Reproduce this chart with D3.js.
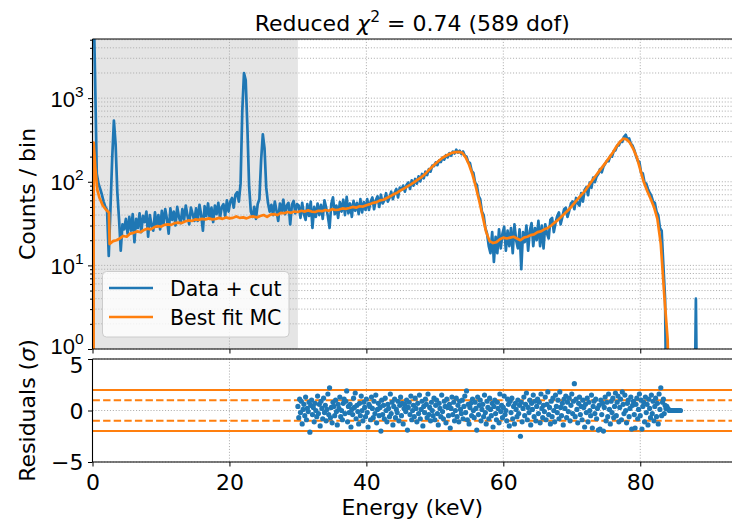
<!DOCTYPE html>
<html>
<head>
<meta charset="utf-8">
<script src="https://cdn.jsdelivr.net/npm/d3@7"></script>
<style>
    body { margin: 0; background: #fff; }
    svg { display: block; font-family: "DejaVu Sans", sans-serif; }
</style>
</head>
<body>
<div class="chart"></div>
<script>
// histogram of the data, 0.25 keV bins starting at 0 keV
const binWidth = 0.25;
const counts = [
    20000, 1800, 125, 95, 82, 70, 58, 50, 46, 13, 48, 190, 540, 280, 75, 36, 15, 31, 27, 36,
    24, 38, 26, 41, 19, 36, 28, 42, 25, 39, 33, 44, 22, 40, 30, 26, 43, 29, 40, 27,
    45, 31, 47, 36, 24, 48, 35, 44, 30, 50, 38, 32, 47, 35, 52, 39, 31, 49, 41, 34,
    48, 34, 53, 40, 26, 51, 39, 55, 36, 49, 33, 52, 41, 56, 37, 50, 54, 39, 60, 44,
    58, 64, 49, 70, 75, 58, 95, 700, 2000, 1650, 440, 88, 44, 38, 50, 36, 54, 62, 180, 370,
    250, 85, 56, 44, 53, 40, 58, 45, 34, 55, 43, 61, 41, 52, 56, 31, 53, 59, 42, 54,
    52, 37, 56, 41, 35, 54, 39, 58, 28, 50, 38, 55, 40, 53, 36, 60, 49, 39, 28, 54,
    65, 41, 52, 37, 57, 44, 61, 40, 66, 42, 55, 38, 59, 45, 56, 41, 62, 43, 57, 46,
    62, 46, 58, 65, 47, 60, 67, 50, 70, 55, 60, 73, 58, 64, 76, 62, 74, 82, 65, 85,
    80, 90, 76, 92, 98, 82, 104, 90, 108, 95, 116, 101, 124, 110, 132, 120, 142, 132, 156, 154,
    170, 158, 180, 172, 195, 184, 208, 196, 220, 205, 230, 218, 242, 224, 235, 215, 230, 205, 200, 172,
    168, 135, 128, 98, 92, 68, 62, 44, 40, 28, 24, 17, 14, 25, 11, 22, 14, 27, 16, 24,
    29, 15, 26, 17, 28, 14, 31, 20, 16, 27, 9, 25, 19, 30, 15, 26, 32, 17, 28, 20,
    34, 17, 30, 16, 31, 24, 21, 35, 37, 25, 32, 39, 43, 31, 38, 47, 49, 38, 45, 55,
    58, 47, 64, 55, 52, 73, 58, 80, 86, 69, 98, 85, 112, 99, 116, 124, 142, 130, 152, 164,
    178, 176, 204, 200, 232, 238, 270, 272, 305, 300, 345, 365, 318, 330, 285, 270, 240, 205, 180, 172,
    128, 126, 98, 95, 82, 74, 68, 58, 56, 44, 40, 28, 26, 10, 4, 0, 0, 0, 0, 0,
    0, 0, 0, 0, 0, 0, 0, 0, 0, 0, 0, 0, 4, 0
];

// best fit MC curve: [energy keV, counts]
const mcCurve = [
    [0.16, 0.1], [0.17, 295], [0.4, 150], [0.7, 80], [1.0, 65], [1.5, 52], [2.0, 46], [2.4, 43], [2.5, 18],
    [3.0, 19.5], [3.5, 20], [4.0, 21], [4.5, 22.5], [5.0, 22], [5.5, 24], [6.0, 24.5], [6.5, 25.5], [7.0, 25],
    [7.5, 26.5], [8.0, 27.5], [8.5, 27], [9.0, 28.5], [9.5, 29.5], [10.0, 29], [10.5, 30.5], [11.0, 31],
    [11.5, 30.5], [12.0, 32], [12.5, 32.5], [13.0, 32], [13.5, 33.5], [14.0, 34.5], [14.5, 34], [15.0, 35.5],
    [15.5, 35], [16.0, 36], [16.5, 35.5], [17.0, 36.5], [17.5, 35.5], [18.0, 36], [18.5, 37], [19.0, 36],
    [19.5, 37.5], [20.0, 36.5], [20.5, 37], [21.0, 38.5], [21.5, 37], [22.0, 37.5], [22.5, 36.5], [23.0, 38],
    [23.5, 38.5], [24.0, 37.5], [24.5, 39], [25.0, 40], [25.5, 38], [26.0, 40.5], [26.5, 41], [27.0, 40],
    [27.5, 42.5], [28.0, 42], [28.5, 43.5], [29.0, 42.5], [29.5, 44], [30.0, 43.5], [30.5, 45], [31.0, 44],
    [31.5, 45.5], [32.0, 44], [32.5, 43.5], [33.0, 45], [33.5, 44.5], [34.0, 46], [34.5, 45], [35.0, 47],
    [35.5, 46], [36.0, 46.5], [36.5, 48], [37.0, 47.5], [37.5, 48.5], [38.0, 50], [38.5, 49], [39.0, 51],
    [39.5, 50.5], [40.0, 52.5], [40.5, 54], [41.0, 56], [41.5, 57], [42.0, 60], [42.5, 61], [43.0, 64],
    [43.5, 67], [44.0, 71], [44.5, 74], [45.0, 79], [45.5, 83], [46.0, 88], [46.5, 93], [47.0, 99],
    [47.5, 106], [48.0, 113], [48.5, 122], [49.0, 135], [49.5, 148], [50.0, 162], [50.5, 176], [51.0, 190],
    [51.5, 202], [52.0, 212], [52.5, 222], [53.0, 226], [53.5, 228], [54.0, 222], [54.5, 196], [55.0, 160],
    [55.5, 122], [56.0, 86], [56.5, 58], [57.0, 38], [57.5, 25], [58.0, 19.5], [58.5, 18.5], [59.0, 19],
    [59.5, 20.5], [60.0, 21.5], [60.5, 21], [61.0, 21.5], [61.5, 22], [62.0, 21], [62.5, 20], [63.0, 21.5],
    [63.5, 22], [64.0, 23], [64.5, 23.5], [65.0, 25], [65.5, 25.5], [66.0, 27], [66.5, 28], [67.0, 30],
    [67.5, 32.5], [68.0, 35], [68.5, 38.5], [69.0, 42], [69.5, 46], [70.0, 51], [70.5, 57], [71.0, 64],
    [71.5, 71], [72.0, 79], [72.5, 91], [73.0, 104], [73.5, 118], [74.0, 134], [74.5, 152], [75.0, 172],
    [75.5, 196], [76.0, 224], [76.5, 262], [77.0, 298], [77.5, 328], [78.0, 322], [78.5, 292], [79.0, 245],
    [79.5, 196], [80.0, 140], [80.5, 100], [81.0, 78], [81.5, 63], [82.0, 50], [82.5, 36], [83.0, 18],
    [83.25, 9], [83.5, 4.5], [83.75, 2.4], [84.0, 1.3], [84.3, 0.1]
];

// residuals in sigma, one point every 0.125 keV from 30 keV
const residualStart = 30;
const residualStep = 0.125;
const residuals = [
    0.4, -0.7, 1.1, -0.2, 0.9, -1.3, 0.1, 0.6,
    -0.5, 1.3, -0.9, 0.2, -0.1, 0.8, -2.1, 0.5,
    1.0, -0.4, 0.3, -1.1, 0.7, 0.0, -0.6, 1.4,
    -0.3, 0.6, -1.5, 0.9, 0.2, -0.8, 1.2, -0.2,
    0.5, -1.0, 0.1, 1.6, -0.4, 2.2, -0.7, 0.3,
    -1.2, 0.8, 0.4, -0.5, 1.0, -0.1, -1.4, 0.6,
    0.2, 1.3, -0.6, 0.0, -0.9, 0.7, 1.1, -0.3,
    0.9, 1.9, -1.1, 0.4, -0.2, 0.6, -1.6, 0.1,
    -0.4, 1.2, 0.3, 1.7, -0.8, 0.5, -0.1, -1.3,
    0.7, -0.5, 1.4, 0.0, -1.0, 0.8, 0.3, -0.6,
    1.1, -0.2, -1.6, 0.6, 0.4, -0.9, 1.3, 0.2,
    -0.7, 0.9, -0.3, 1.5, -1.2, 0.1, 0.7, -0.5,
    0.3, -2.0, 1.0, -0.4, 0.5, -0.8, 1.2, 0.0,
    -1.1, 0.6, 0.2, -0.6, 1.6, -0.3, 0.8, -1.4,
    0.4, 1.1, -0.7, 0.1, -0.2, 0.9, -1.0, 0.5,
    1.3, -0.5, 0.7, -1.3, 0.2, 0.6, -0.1, 1.0,
    -1.9, 0.3, 0.8, -0.4, 1.4, -0.9, 0.0, 0.5,
    -0.6, 1.2, 0.2, -1.1, 0.7, -0.3, 1.5, -0.8,
    0.1, 0.9, -1.5, 0.4, -0.2, 1.1, 0.6, -0.7,
    1.6, -0.4, 0.3, -1.0, 0.8, 0.0, -0.5, 1.2,
    -0.9, 0.5, 1.0, -0.3, -1.4, 0.7, 0.2, -0.6,
    1.5, -0.1, -0.8, 0.9, 0.4, -1.2, 1.1, 0.3,
    -0.5, 0.6, -1.7, 0.2, 1.3, -0.4, 0.8, -1.0,
    0.0, 1.2, -0.6, 0.5, -1.1, 0.9, 0.1, -0.3,
    1.0, -0.8, 0.4, 1.4, -0.2, 1.9, -0.9, 0.6,
    -1.3, 0.3, 0.7, -0.5, 1.1, 0.0, -0.7, 0.8,
    0.2, -1.9, 1.3, -0.4, 0.5, 1.0, -1.0, 0.1,
    0.6, -0.6, 1.5, -0.2, -1.3, 0.9, 0.3, -0.8,
    1.2, 0.1, -0.5, 0.7, -1.6, 0.4, 1.0, -0.3,
    -0.9, 0.8, 0.2, -1.2, 1.6, -0.1, 0.5, -0.7,
    0.3, 1.4, -0.4, 0.0, -1.0, 1.1, 0.6, -1.5,
    0.9, -0.2, 1.2, -0.8, 0.4, -1.3, 0.7, 0.1,
    -0.6, 1.0, -0.3, 0.5, -2.5, 0.8, -1.1, 0.2,
    1.3, -0.5, 0.6, 1.7, -0.9, 0.3, -0.2, 1.0,
    -1.4, 0.7, 0.1, 1.5, -0.6, 0.9, -1.0, 0.4,
    1.1, -0.3, 0.8, -1.2, 1.6, 0.2, -0.7, 0.5,
    -0.1, 1.3, -0.9, 0.6, 1.8, -0.4, 0.3, -1.3,
    0.9, -0.6, 1.2, 0.0, -1.1, 1.5, 0.4, -0.2,
    1.0, -0.8, 1.8, 0.3, -0.5, 0.7, -1.4, 1.1,
    0.2, 1.4, -0.7, 0.8, -0.1, 1.2, -1.0, 0.5,
    1.6, -0.3, 0.9, 2.6, -0.6, 1.1, 0.1, -1.2,
    0.7, 1.3, -0.4, 0.4, -0.9, 1.0, 0.3, -1.6,
    0.6, -0.2, 1.2, -1.1, 0.8, 0.0, -0.5, 1.5,
    -1.7, 0.4, 0.9, -0.3, 1.1, -0.8, 0.2, -1.9,
    0.5, -1.8, 1.0, -0.4, 0.7, -2.0, 0.3, 1.3,
    -1.0, 0.8, -0.6, 1.6, 0.1, -1.3, 0.9, -0.2,
    1.2, -0.7, 0.4, 1.7, -0.5, 0.8, 1.4, -1.1,
    0.3, 1.1, -0.9, 1.8, 0.6, -0.3, 1.5, 0.0,
    -1.2, 0.7, 1.0, -0.6, 0.2, 1.3, -1.8, 0.5,
    0.9, -0.4, -1.7, 0.6, 1.2, -0.8, 0.1, 1.6,
    -0.5, 1.0, -1.8, 0.4, 0.8, -1.1, 1.3, -0.2,
    0.6, -1.4, 1.1, 0.2, -0.7, 1.5, -0.3, 0.9,
    -1.0, 0.4, 1.2, -0.6, 0.7, -1.3, 1.6, 0.1,
    2.2, -0.5, 0.8, 1.1, -0.3, 0.5, 0.2, 0.4,
    0.2, 0.1, 0.0, 0.0, 0.0, 0.0, 0.0, 0.0,
    0.0, 0.0, 0.0, 0.0, 0.0, 0.0, 0.0, 0.0
];

const xTicks = [0, 20, 40, 60, 80];
const resTicks = [-5, 0, 5];
const sigmaLines = [-2, -1, 1, 2];
const excludedRange = [0, 30];

const width = 732;
const height = 525;
const left = 92.5;
const right = 732;
const top1 = 39;
const bottom1 = 349;
const top2 = 359;
const bottom2 = 462;
const blue = '#1f77b4';
const orange = '#ff7f0e';
const lineWidth = 2.7;

const svg = d3.select('.chart')
    .append('svg')
    .attr('width', width)
    .attr('height', height);

const x = d3.scaleLinear().domain([0, 93.4]).range([left, right]);
const y = d3.scaleLog().domain([1, 5100]).range([bottom1, top1]);
const yRes = d3.scaleLinear().domain([-5, 5]).range([bottom2, top2]);

svg.append('clipPath').attr('id', 'clipTop')
    .append('rect')
    .attr('x', left).attr('y', top1)
    .attr('width', right - left).attr('height', bottom1 - top1);

function gridLine(sel) {
    return sel.attr('stroke', '#b0b0b0')
        .attr('stroke-width', 1)
        .attr('stroke-dasharray', '1.1,1.8');
}

// ---------- top panel ----------
const topG = svg.append('g');

topG.append('rect')
    .attr('x', x(excludedRange[0]))
    .attr('y', top1)
    .attr('width', x(excludedRange[1]) - x(excludedRange[0]))
    .attr('height', bottom1 - top1)
    .attr('fill', '#e5e5e5');

topG.selectAll('.ygrid')
    .data(y.ticks())
    .enter().append('line')
    .attr('class', 'ygrid')
    .attr('x1', left).attr('x2', right)
    .attr('y1', d => y(d)).attr('y2', d => y(d))
    .call(gridLine);

topG.selectAll('.xgrid')
    .data(xTicks)
    .enter().append('line')
    .attr('class', 'xgrid')
    .attr('x1', d => x(d)).attr('x2', d => x(d))
    .attr('y1', top1).attr('y2', bottom1)
    .call(gridLine);

// data drawn as a line through the bin centres
const dataPoints = counts.map((c, i) => [(i + 0.5) * binWidth, c]);

const countLine = d3.line()
    .x(d => x(d[0]))
    .y(d => y(Math.max(d[1], 0.05)));

const plotG = topG.append('g').attr('clip-path', 'url(#clipTop)');

plotG.append('path')
    .datum(dataPoints)
    .attr('d', countLine)
    .attr('fill', 'none')
    .attr('stroke', blue)
    .attr('stroke-width', lineWidth)
    .attr('stroke-linejoin', 'round');

plotG.append('path')
    .datum(mcCurve)
    .attr('d', countLine)
    .attr('fill', 'none')
    .attr('stroke', orange)
    .attr('stroke-width', lineWidth)
    .attr('stroke-linejoin', 'round');

// legend
const legend = topG.append('g');
legend.append('rect')
    .attr('x', 102.5).attr('y', 271.5)
    .attr('width', 186.5).attr('height', 65.5)
    .attr('rx', 4)
    .attr('fill', '#fff').attr('fill-opacity', 0.8)
    .attr('stroke', '#cccccc');

const legendItems = [
    { label: 'Data + cut', color: blue },
    { label: 'Best fit MC', color: orange }
];

const item = legend.selectAll('.legend-item')
    .data(legendItems)
    .enter().append('g')
    .attr('class', 'legend-item')
    .attr('transform', (d, i) => `translate(0, ${288 + i * 29})`);

item.append('line')
    .attr('x1', 109).attr('x2', 153)
    .attr('stroke', d => d.color)
    .attr('stroke-width', lineWidth);

item.append('text')
    .attr('x', 170).attr('y', 7.5)
    .style('font-size', '20.5px')
    .attr('fill', '#000')
    .text(d => d.label);

// spines
topG.append('line').attr('x1', left).attr('x2', right).attr('y1', top1).attr('y2', top1)
    .attr('stroke', '#000').attr('stroke-width', 1.1);
topG.append('line').attr('x1', left).attr('x2', right).attr('y1', bottom1).attr('y2', bottom1)
    .attr('stroke', '#000').attr('stroke-width', 1.1);
topG.append('line').attr('x1', left).attr('x2', left).attr('y1', top1).attr('y2', bottom1)
    .attr('stroke', '#000').attr('stroke-width', 1.1);

// axes
topG.append('g')
    .attr('transform', `translate(0, ${bottom1})`)
    .call(d3.axisBottom(x).tickValues(xTicks).tickSize(4.5).tickFormat(''))
    .call(g => g.select('.domain').remove());

const majors = y.ticks().filter(d => Math.abs(Math.log10(d) - Math.round(Math.log10(d))) < 1e-9);
const minors = y.ticks().filter(d => majors.indexOf(d) < 0);

topG.append('g')
    .attr('transform', `translate(${left}, 0)`)
    .call(d3.axisLeft(y).tickValues(minors).tickSize(2.5).tickFormat(''))
    .call(g => g.select('.domain').remove());

const yAxisG = topG.append('g')
    .attr('transform', `translate(${left}, 0)`)
    .call(d3.axisLeft(y).tickValues(majors).tickSize(4.5).tickFormat(''))
    .call(g => g.select('.domain').remove());

yAxisG.selectAll('.tick').each(function (d) {
    const t = d3.select(this).append('text')
        .attr('x', -9)
        .attr('y', d === 1 ? 4 : 8)
        .attr('fill', '#000')
        .attr('text-anchor', 'end')
        .style('font-size', '22px');
    t.append('tspan').text('10');
    t.append('tspan')
        .attr('dy', -10)
        .style('font-size', '15.5px')
        .text(Math.round(Math.log10(d)));
});

// ---------- residual panel ----------
const resG = svg.append('g');

resG.selectAll('.rgrid')
    .data(resTicks)
    .enter().append('line')
    .attr('x1', left).attr('x2', right)
    .attr('y1', d => yRes(d)).attr('y2', d => yRes(d))
    .call(gridLine);

resG.selectAll('.rxgrid')
    .data(xTicks)
    .enter().append('line')
    .attr('x1', d => x(d)).attr('x2', d => x(d))
    .attr('y1', top2).attr('y2', bottom2)
    .call(gridLine);

resG.selectAll('.sigma')
    .data(sigmaLines)
    .enter().append('line')
    .attr('x1', left).attr('x2', right)
    .attr('y1', d => yRes(d)).attr('y2', d => yRes(d))
    .attr('stroke', orange)
    .attr('stroke-width', 2)
    .attr('stroke-dasharray', d => Math.abs(d) === 1 ? '7.4,3.2' : null);

resG.selectAll('.res')
    .data(residuals)
    .enter().append('circle')
    .attr('cx', (d, i) => x(residualStart + i * residualStep))
    .attr('cy', d => yRes(d))
    .attr('r', 2.6)
    .attr('fill', blue);

resG.append('line').attr('x1', left).attr('x2', right).attr('y1', top2).attr('y2', top2)
    .attr('stroke', '#000').attr('stroke-width', 1.1);
resG.append('line').attr('x1', left).attr('x2', right).attr('y1', bottom2).attr('y2', bottom2)
    .attr('stroke', '#000').attr('stroke-width', 1.1);
resG.append('line').attr('x1', left).attr('x2', left).attr('y1', top2).attr('y2', bottom2)
    .attr('stroke', '#000').attr('stroke-width', 1.1);

resG.append('g')
    .attr('transform', `translate(0, ${bottom2})`)
    .call(d3.axisBottom(x).tickValues(xTicks).tickSize(4.5))
    .call(g => g.select('.domain').remove())
    .call(g => g.selectAll('text')
        .attr('y', 28).attr('dy', null)
        .attr('fill', '#000')
        .style('font-family', '"DejaVu Sans", sans-serif')
        .style('font-size', '22px'));

resG.append('g')
    .attr('transform', `translate(${left}, 0)`)
    .call(d3.axisLeft(yRes).tickValues(resTicks).tickSize(4.5).tickPadding(4.5))
    .call(g => g.select('.domain').remove())
    .call(g => g.selectAll('text')
        .attr('dy', d => d === 5 ? '0.62em' : '0.36em')
        .attr('fill', '#000')
        .style('font-family', '"DejaVu Sans", sans-serif')
        .style('font-size', '22px'));

// ---------- labels ----------
const title = svg.append('text')
    .attr('x', (left + right) / 2)
    .attr('y', 31)
    .attr('text-anchor', 'middle')
    .style('font-size', '22px');
title.append('tspan').text('Reduced ');
title.append('tspan').style('font-style', 'italic').text('χ');
title.append('tspan').attr('dy', -9).style('font-size', '15.5px').text('2');
title.append('tspan').attr('dy', 9).text(' = 0.74 (589 dof)');

svg.append('text')
    .attr('transform', `translate(35, ${(top1 + bottom1) / 2}) rotate(-90)`)
    .attr('text-anchor', 'middle')
    .style('font-size', '22px')
    .text('Counts / bin');

const resLabel = svg.append('text')
    .attr('transform', `translate(35, ${(top2 + bottom2) / 2}) rotate(-90)`)
    .attr('text-anchor', 'middle')
    .style('font-size', '22px');
resLabel.append('tspan').text('Residuals (');
resLabel.append('tspan').style('font-style', 'italic').text('σ');
resLabel.append('tspan').text(')');

svg.append('text')
    .attr('x', (left + right) / 2)
    .attr('y', 515)
    .attr('text-anchor', 'middle')
    .style('font-size', '22px')
    .text('Energy (keV)');
</script>
</body>
</html>
